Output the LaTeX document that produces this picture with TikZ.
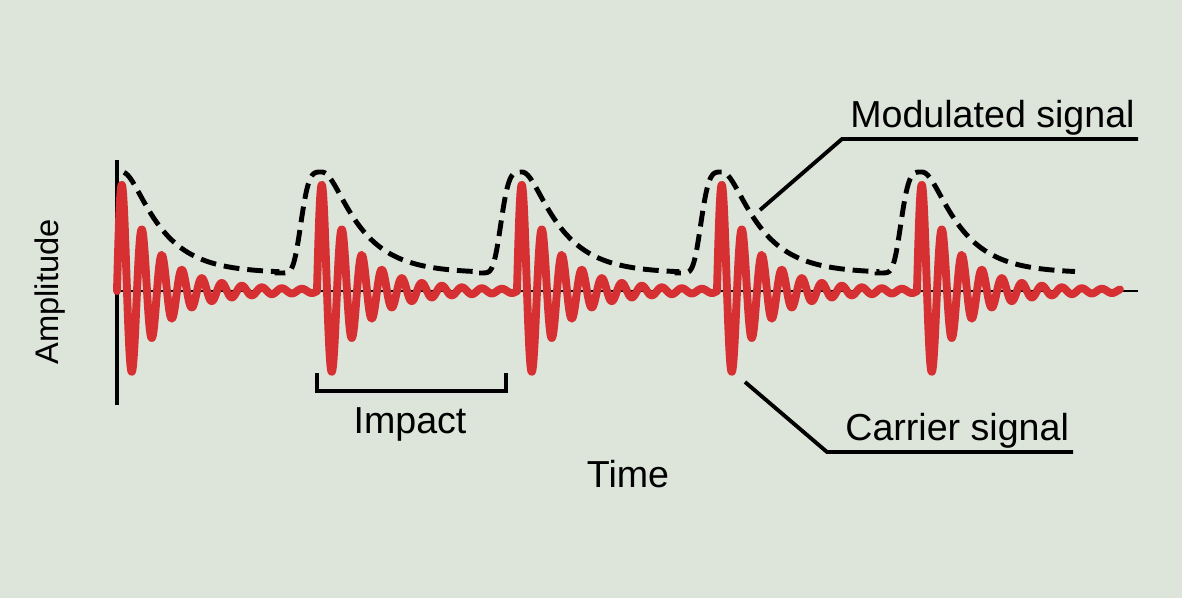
\documentclass[tikz,border=0pt]{standalone}
\usepackage{fontspec}
\setmainfont{Liberation Sans}
\definecolor{bg}{RGB}{221,228,218}
\definecolor{sigred}{RGB}{214,48,50}
\begin{document}
\begin{tikzpicture}[x=0.02cm,y=-0.02cm,
  lbl/.style={font=\fontsize{21.4}{25}\selectfont, inner sep=0pt, text=black},
  carrier/.style={draw=sigred, line width=4.5pt, line cap=round, line join=round},
  env/.style={draw=black, line width=2.8pt, dash pattern=on 9pt off 4.5pt},
  axisline/.style={draw=black, line width=1.4pt},
  yaxisline/.style={draw=black, line width=2pt},
  leader/.style={draw=black, line width=2.2pt},
  bracket/.style={draw=black, line width=2.2pt},
  declare function={fall(\t)=101*exp(-(10*sqrt(((\t-5)/10)^2+2.25)-15)/33);
                    rise(\t)=101*exp(-((5-\t)/23)^4);
                    carr(\t)=(120*exp(-\t/36)+1.5)*sin(18*\t);}]
\fill[bg] (0,0) rectangle (1182,598);
\useasboundingbox (0,0) rectangle (1182,598);
% axes
\coordinate (ytop) at (117,160);
\coordinate (ybot) at (117,405);
\coordinate (xorg) at (117,291);
\coordinate (xend) at (1138,291);
\draw[axisline] (xorg) -- (xend);
\draw[yaxisline] (ytop) -- (ybot);
% carrier signal bursts
\foreach \k in {0,1,2,3} {
  \draw[carrier] plot[domain=0:200, samples=401] ({117+200*\k+\x},{291-carr(\x)});
}
\draw[carrier] plot[domain=0:203, samples=407] ({917+\x},{291-carr(\x)});
% modulated envelope
\draw[env]
  plot[domain=7:160, samples=80] ({117+\x},{273-fall(\x)})
  -- plot[domain=-40:5, samples=46] ({317+\x},{273-rise(\x)})
  -- plot[domain=5:160, samples=80] ({317+\x},{273-fall(\x)})
  -- plot[domain=-40:5, samples=46] ({517+\x},{273-rise(\x)})
  -- plot[domain=5:160, samples=80] ({517+\x},{273-fall(\x)})
  -- plot[domain=-40:5, samples=46] ({717+\x},{273-rise(\x)})
  -- plot[domain=5:160, samples=80] ({717+\x},{273-fall(\x)})
  -- plot[domain=-40:5, samples=46] ({917+\x},{273-rise(\x)})
  -- plot[domain=5:158, samples=80] ({917+\x},{273-fall(\x)});
% impact bracket
\coordinate (bl) at (317,373);
\coordinate (blb) at (317,391);
\coordinate (brb) at (506,391);
\coordinate (br) at (506,373);
\draw[bracket] (bl) -- (blb) -- (brb) -- (br);
\node[lbl, anchor=base] (impact) at (410,433) {Impact};
% labels
\node[lbl, anchor=base] (time) at (628,487) {Time};
\node[lbl, font=\fontsize{18.6}{22}\selectfont, rotate=90, anchor=base] (amp) at (58,292) {Amplitude};
\node[lbl, anchor=base west] (mod) at (850,127) {Modulated signal};
\node[lbl, anchor=base west] (car) at (845,440) {Carrier signal};
% leaders
\coordinate (modtip) at (760,210);
\coordinate (modknee) at (842,139);
\coordinate (modend) at (1138,139);
\draw[leader] (modtip) -- (modknee) -- (modend);
\coordinate (cartip) at (745,382);
\coordinate (carknee) at (827,452);
\coordinate (carend) at (1073,452);
\draw[leader] (cartip) -- (carknee) -- (carend);
\end{tikzpicture}
\end{document}
